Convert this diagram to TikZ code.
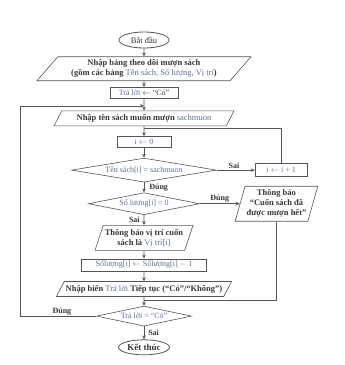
\documentclass[tikz,border=0pt]{standalone}
\usepackage{fontspec}
\setmainfont{Liberation Serif}
\usepackage{tikz}
\usetikzlibrary{shapes.geometric, arrows.meta, positioning, calc}
\definecolor{inkgray}{RGB}{55,55,55}
\definecolor{linegray}{RGB}{85,85,85}
\definecolor{varblue}{RGB}{95,110,145}
\newcommand{\vb}[1]{{\color{varblue}\mdseries #1}}
\tikzset{
  term/.style={ellipse, draw=linegray, fill=white, text=inkgray,
    inner sep=0pt, minimum height=16pt, font=\fontsize{8.5}{10}\selectfont, line width=0.8pt},
  io/.style={trapezium, trapezium left angle=55, trapezium right angle=125,
    trapezium stretches body, draw=linegray, text=inkgray, align=center,
    inner sep=1.5pt, minimum height=15pt,
    font=\fontsize{8.5}{10}\selectfont\bfseries, line width=0.6pt},
  proc/.style={rectangle, draw=linegray, text=inkgray, align=center,
    inner sep=1.5pt, minimum height=11pt,
    font=\fontsize{8}{9.5}\selectfont, line width=0.6pt},
  test/.style={diamond, draw=linegray, text=inkgray, aspect=6,
    inner sep=0pt, font=\fontsize{8}{9.5}\selectfont, line width=0.6pt},
  lbl/.style={text=inkgray, font=\fontsize{8}{9.5}\selectfont\bfseries, inner sep=1pt},
  arrow/.style={-{Stealth[length=4pt,width=3.5pt]}, line width=0.6pt, color=linegray},
  line/.style={line width=0.6pt, color=linegray}
}
\begin{document}
\begin{tikzpicture}[node distance=10pt]
  \useasboundingbox (0,0) rectangle (345pt,-365pt);
  \node[term, minimum width=50pt] (start) at (144pt,-40pt) {Bắt đầu};
  \node[io, trapezium left angle=45, trapezium right angle=135, minimum height=24pt,
    minimum width=214pt, below=8pt of start] (load) {Nhập bảng theo dõi mượn sách\\(gồm các bảng \vb{Tên sách, Số lượng, Vị trí})};
  \node[proc, minimum width=68pt, below=6pt of load] (ans) {\vb{Trả lời} $\leftarrow$ “Có”};
  \node[io, minimum width=180pt, below=12pt of ans] (name) {Nhập tên sách muốn mượn \vb{sachmuon}};
  \node[proc, minimum width=54pt, below=10pt of name] (init) {\vb{i $\leftarrow$ 0}};
  \node[test, minimum width=145pt, minimum height=24pt, below=10pt of init] (find) {\vb{Tên sách[i] = sachmuon}};
  \node[proc, minimum width=52pt, minimum height=13pt, right=38pt of find] (inc) {\vb{i $\leftarrow$ i + 1}};
  \node[test, minimum width=111pt, minimum height=22pt, below=10pt of find] (stock) {\vb{Số lượng[i] = 0}};
  \node[io, trapezium left angle=72, trapezium right angle=108, minimum height=35pt,
    right=40pt of stock] (full) {Thông báo\\“Cuốn sách đã\\được mượn hết”};
  \node[io, trapezium left angle=68, trapezium right angle=112, minimum height=25pt,
    below=10pt of stock] (where) {Thông báo vị trí cuốn\\sách là \vb{Vị trí[i]}};
  \node[proc, minimum width=125pt, minimum height=12pt, below=8pt of where] (dec) {\vb{Sốlượng[i] $\leftarrow$ Sốlượng[i] $-$ 1}};
  \node[io, below=10pt of dec] (again) {Nhập biến \vb{Trả lời} Tiếp tục (“Có”/“Không”)};
  \node[test, minimum width=95pt, minimum height=20pt, below=9pt of again] (more) {\vb{Trả lời = “Có”}};
  \node[term, minimum width=51pt, minimum height=15pt, font=\fontsize{9}{10}\selectfont\bfseries,
    below=13pt of more] (stop) {Kết thúc};

  \coordinate (j0) at ($(ans.south)!0.6!(name.north)$);
  \coordinate (j1) at ($(name.south)!0.25!(init.north)$);
  \coordinate (j2) at ($(again.south)!0.4!(more.north)$);
  \coordinate (lft) at (20pt,0);

  \draw[arrow] (start) -- (load);
  \draw[arrow] (load) -- (ans);
  \draw[arrow] (ans) -- (name);
  \draw[arrow] (name) -- (init);
  \draw[arrow] (init) -- (find);
  \draw[arrow] (find) -- node[lbl, right=4pt]{Đúng} (stock);
  \draw[arrow] (find.east) -- node[lbl, above, pos=0.45]{Sai} (inc);
  \draw[line]  (inc.north) |- (j1);
  \draw[arrow] (stock.east) -- node[lbl, above, pos=0.5]{Đúng} (full.west |- stock.east);
  \draw[arrow] (stock) -- node[lbl, left=3pt]{Sai} (where);
  \draw[arrow] (where) -- (dec);
  \draw[arrow] (dec) -- (again);
  \draw[arrow] (again) -- (more);
  \draw[line]  (full.south) |- (j2);
  \draw[arrow] (more) -- node[lbl, right=3pt]{Sai} (stop);
  \draw[arrow] (more.west) -- node[lbl, above, pos=0.45]{Đúng} (more.west -| lft) |- (j0);
\end{tikzpicture}
\end{document}
